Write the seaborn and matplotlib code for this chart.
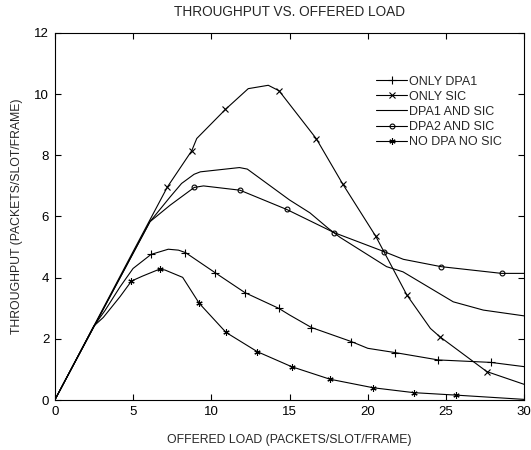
import numpy as np
import pandas as pd
import seaborn as sns
import matplotlib.pyplot as plt
from matplotlib.lines import Line2D

# offered load (x) / throughput (y) per scheme
load_dpa1 = [0, 2.5, 3.2, 4.17, 5.0, 6.15, 7.25, 7.9, 8.35, 10.25, 12.15, 14.3,
             15.0, 16.4, 18.95, 20.0, 21.75, 24.5, 27.85, 30]
thr_dpa1 = [0, 2.42, 2.92, 3.70, 4.3, 4.76, 4.93, 4.9, 4.82, 4.16, 3.51, 3.0,
            2.78, 2.37, 1.91, 1.69, 1.55, 1.31, 1.23, 1.09]
mark_dpa1 = [5, 8, 9, 10, 11, 13, 14, 16, 17, 18]

load_sic = [0, 5.0, 7.2, 8.75, 9.07, 10.9, 12.36, 13.64, 14.33, 16.7, 18.4,
            20.5, 22.5, 24.0, 24.6, 27.6, 30]
thr_sic = [0, 4.85, 6.97, 8.15, 8.55, 9.5, 10.18, 10.29, 10.11, 8.55, 7.06,
           5.36, 3.43, 2.34, 2.07, 0.93, 0.51]
mark_sic = [2, 3, 5, 8, 9, 10, 11, 12, 14, 15]

load_both = [0, 6.08, 7.37, 8.1, 8.9, 9.3, 11.8, 12.3, 15.0, 16.3, 17.48, 18.22,
             21.2, 22.25, 25.46, 27.38, 30]
thr_both = [0, 5.83, 6.64, 7.08, 7.38, 7.46, 7.60, 7.55, 6.54, 6.12, 5.61, 5.32,
            4.36, 4.19, 3.21, 2.94, 2.75]
mark_both = []

load_dpa2 = [0, 6.08, 7.37, 8.91, 9.5, 11.83, 14.82, 17.86, 21.05, 22.27, 24.68,
             28.55, 30]
thr_dpa2 = [0, 5.83, 6.37, 6.95, 7.0, 6.86, 6.23, 5.47, 4.85, 4.6, 4.36, 4.14, 4.14]
mark_dpa2 = [3, 5, 6, 7, 8, 10, 11]

load_none = [0, 2.5, 3.1, 4.17, 4.9, 5.6, 6.7, 7.04, 8.17, 9.23, 10.94, 12.94,
             15.13, 17.58, 20.35, 22.95, 25.63, 30]
thr_none = [0, 2.42, 2.7, 3.38, 3.89, 4.05, 4.28, 4.25, 4.01, 3.16, 2.21, 1.58,
            1.09, 0.68, 0.40, 0.24, 0.16, 0.02]
mark_none = [4, 6, 9, 10, 11, 12, 13, 14, 15, 16]

asterisk = (6, 2, 0)
series = [
    ("ONLY DPA1", load_dpa1, thr_dpa1, mark_dpa1, "+", 5.5),
    ("ONLY SIC", load_sic, thr_sic, mark_sic, "x", 4.5),
    ("DPA1 AND SIC", load_both, thr_both, mark_both, None, 0),
    ("DPA2 AND SIC", load_dpa2, thr_dpa2, mark_dpa2, "o", 3.5),
    ("NO DPA NO SIC", load_none, thr_none, mark_none, asterisk, 4.5),
]

sns.set_style("ticks")
plt.rcParams["font.family"] = ["Liberation Sans", "DejaVu Sans"]

fig = plt.figure(figsize=(5.31, 4.5), dpi=100)
ax = fig.add_axes([0.1032, 0.1111, 0.8842, 0.8156])

handles = []
for name, xs, ys, marks, mk, ms in series:
    df = pd.DataFrame({"load": xs, "thr": ys})
    kw = dict(color="black", linewidth=0.8)
    if mk is not None:
        kw.update(marker=mk, markersize=ms, markevery=marks, markeredgewidth=0.8,
                  markerfacecolor="none", markeredgecolor="black")
    sns.lineplot(data=df, x="load", y="thr", ax=ax, sort=False, estimator=None,
                 legend=False, **kw)
    handles.append(Line2D([], [], color="black", linewidth=0.8,
                          marker=mk, markersize=ms,
                          markeredgewidth=0.8, markerfacecolor="none",
                          markeredgecolor="black", label=name))

ax.set_xlim(0, 30)
ax.set_ylim(0, 12)
ax.set_xticks(np.arange(0, 31, 5))
ax.set_yticks(np.arange(0, 13, 2))
ax.tick_params(direction="in", length=4, width=0.8, top=True, right=True,
               labelsize=9.5, pad=4, colors="black")
for sp in ax.spines.values():
    sp.set_visible(True)
    sp.set_linewidth(0.8)
    sp.set_color("black")

ax.set_title("THROUGHPUT VS. OFFERED LOAD", fontsize=9.8, pad=12.5)
ax.set_xlabel("OFFERED LOAD (PACKETS/SLOT/FRAME)", fontsize=8.8, labelpad=12)
ax.set_ylabel("THROUGHPUT (PACKETS/SLOT/FRAME)", fontsize=8.8, labelpad=8)

ax.legend(handles=handles, loc="upper left", bbox_to_anchor=(0.684, 0.884),
          frameon=False, fontsize=9, handlelength=2.5, handletextpad=0.15,
          labelspacing=0.25, borderpad=0, borderaxespad=0, numpoints=1)

fig.savefig("out.png", dpi=100)
